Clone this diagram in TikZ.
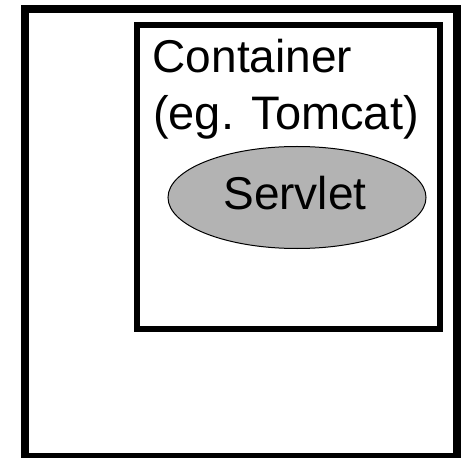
\documentclass[tikz,border=0pt]{standalone}
\usepackage{fontspec}
\setmainfont{Liberation Sans}
\usetikzlibrary{shapes.geometric}
\definecolor{servletgray}{RGB}{179,179,179}
\tikzset{
  frame/.style={draw=black, line join=miter},
  label text/.style={inner sep=0pt, font=\fontsize{46bp}{57bp}\selectfont},
}
\begin{document}
\begin{tikzpicture}[x=1bp, y=-1bp]
  \useasboundingbox (0,0) rectangle (466,458);
  % server box
  \draw[frame, line width=8bp] (25,9) rectangle (457,456.5);
  % container box
  \draw[frame, line width=6bp] (137,25) rectangle (440,328.7);
  \node[label text, anchor=base west] (container) at (152.5,72.7) {Container};
  \node[label text, font=\fontsize{47bp}{57bp}\selectfont, anchor=base west]
        (example) at (153,130) {(eg. Tomcat)};
  % servlet
  \node[ellipse, draw=black, line width=1bp, fill=servletgray,
        minimum width=258bp, minimum height=102bp, inner sep=0pt]
        (servlet) at (297,197.5) {};
  \node[label text, anchor=base] (servletlabel) at (295,209.3) {Servlet};
\end{tikzpicture}
\end{document}
